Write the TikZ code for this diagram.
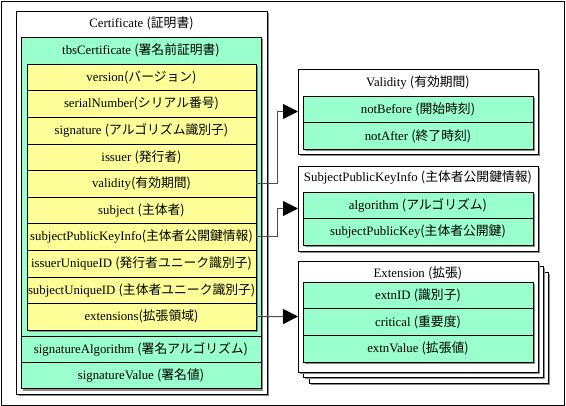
\documentclass[tikz,border=0pt]{standalone}
\usepackage{fontspec}
\setmainfont{Liberation Serif}
\newfontfamily\jp{Noto Sans CJK JP}
\usetikzlibrary{arrows.meta,shadows}
\definecolor{mint}{HTML}{99FFCC}
\definecolor{lemon}{HTML}{FFFF99}
\begin{document}
\begin{tikzpicture}[x=1pt,y=-1pt,
        every node/.style={font=\fontsize{12.8}{14}\selectfont, inner sep=1pt, outer sep=0pt},
        box/.style={draw=black, drop shadow={shadow xshift=2pt, shadow yshift=-2pt, fill=black!45, opacity=1}},
        row/.style={draw=black, minimum width=229pt, minimum height=26.6pt, anchor=north west},
        wrow/.style={draw=black, minimum width=240pt, minimum height=26.3pt, anchor=north west},
        frow/.style={draw=black, minimum width=230pt, minimum height=26.6pt, anchor=north west},
        panel/.style={box, fill=white, minimum width=240pt, anchor=north west},
        conn/.style={draw=black!70, line width=1pt, -{Triangle[length=15pt, width=15pt, color=black]}}]
        \useasboundingbox (0,0) rectangle (566,406);
        \draw (1,1) rectangle (564,405);
        % certificate
        \draw[box, fill=white] (16,11) rectangle (267,394);
        \node (certtitle) at (141.5,23) {Certificate {\jp (証明書)}};
        \draw[box, fill=mint] (21,37) rectangle (261,388.6);
        \node (tbstitle) at (141,50) {tbsCertificate {\jp (署名前証明書)}};
        \draw[box, fill=lemon] (27,64) rectangle (256,330);
        \node[row] (version) at (27,64) {version{\jp (バージョン)}};
        \node[row] (serial) at (27,90.6) {serialNumber{\jp (シリアル番号)}};
        \node[row] (signature) at (27,117.2) {signature {\jp (アルゴリズム識別子)}};
        \node[row] (issuer) at (27,143.8) {issuer {\jp (発行者)}};
        \node[row] (validity) at (27,170.4) {validity{\jp (有効期間)}};
        \node[row] (subject) at (27,197) {subject {\jp (主体者)}};
        \node[row] (spki) at (27,223.6) {subjectPublicKeyInfo{\jp (主体者公開鍵情報)}};
        \node[row] (issueruid) at (27,250.2) {issuerUniqueID {\jp (発行者ユニーク識別子)}};
        \node[row] (subjectuid) at (27,276.8) {subjectUniqueID {\jp (主体者ユニーク識別子)}};
        \node[row] (extensions) at (27,303.4) {extensions{\jp (拡張領域)}};
        \node[wrow] (sigalg) at (21,336) {signatureAlgorithm {\jp (署名アルゴリズム)}};
        \node[wrow] (sigval) at (21,362.3) {signatureValue {\jp (署名値)}};
        % validity
        \node[panel, minimum height=85pt] (validitybox) at (298,69) {};
        \node (validitytitle) at (418,83) {Validity {\jp (有効期間)}};
        \draw[box, fill=mint] (303,96) rectangle (533,149.2);
        \node[frow] (notbefore) at (303,96) {notBefore {\jp (開始時刻)}};
        \node[frow] (notafter) at (303,122.6) {notAfter {\jp (終了時刻)}};
        % subjectPublicKeyInfo
        \node[panel, minimum height=85pt] (spkibox) at (298,166) {};
        \node (spkititle) at (418,177.5) {SubjectPublicKeyInfo {\jp (主体者公開鍵情報)}};
        \draw[box, fill=mint] (303,192) rectangle (533,245.2);
        \node[frow] (algorithm) at (303,192) {algorithm {\jp (アルゴリズム)}};
        \node[frow] (pubkey) at (303,218.6) {subjectPublicKey{\jp (主体者公開鍵)}};
        % extension
        \node[panel, minimum width=239pt, minimum height=111pt] (extnback) at (309,272) {};
        \node[panel, minimum height=111pt] (extnmid) at (303,266) {};
        \node[panel, minimum height=111pt] (extnbox) at (298,261) {};
        \node (extntitle) at (418,273) {Extension {\jp (拡張)}};
        \draw[box, fill=mint] (303,282) rectangle (533,361.8);
        \node[frow] (extnid) at (303,282) {extnID {\jp (識別子)}};
        \node[frow] (critical) at (303,308.6) {critical {\jp (重要度)}};
        \node[frow] (extnvalue) at (303,335.2) {extnValue {\jp (拡張値)}};
        % connectors
        \draw[conn] (validity.east) -- ++(21,0) |- (validitybox.west);
        \draw[conn] (spki.east) -- ++(21,0) |- (spkibox.west);
        \draw[conn] (extensions.east) -- (extnbox.west);
    \end{tikzpicture}
\end{document}
